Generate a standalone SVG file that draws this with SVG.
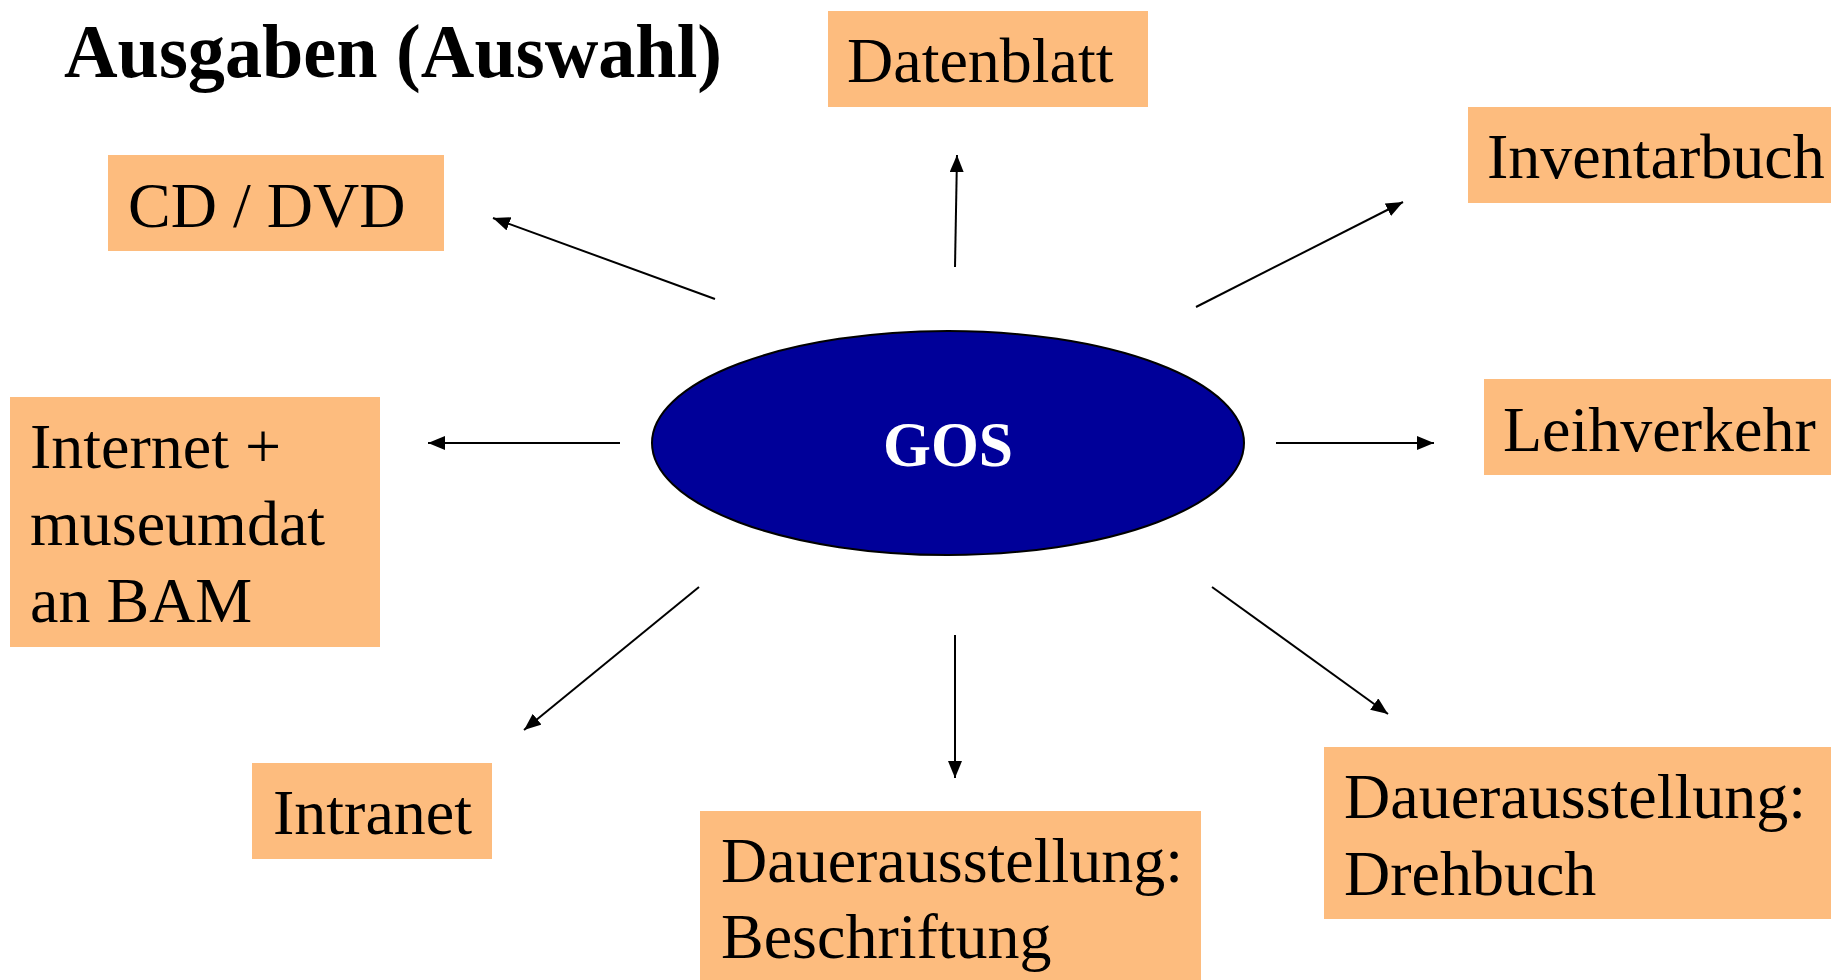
<svg xmlns="http://www.w3.org/2000/svg" width="1831" height="980" viewBox="0 0 1831 980">
<style>
.box{fill:#FDBC7E;}
.t{font-family:"Liberation Serif","Times New Roman",serif;font-size:64px;fill:#000;}
.title{font-family:"Liberation Serif","Times New Roman",serif;font-size:76px;font-weight:bold;fill:#000;}
.gos{font-family:"Liberation Serif","Times New Roman",serif;font-size:64px;font-weight:bold;fill:#fff;}
.c{stroke:#000;stroke-width:2;fill:none;marker-end:url(#ah);}
</style>
<defs>
<marker id="ah" markerUnits="userSpaceOnUse" markerWidth="18" markerHeight="14" refX="17" refY="7" orient="auto">
<path d="M0,0 L17,7 L0,14 z" fill="#000"/>
</marker>
</defs>
<rect width="1831" height="980" fill="#fff"/>
<text class="title" x="64" y="77" textLength="658" lengthAdjust="spacingAndGlyphs">Ausgaben (Auswahl)</text>
<g id="connectors">
<line class="c" x1="955" y1="267" x2="957" y2="155"/>
<line class="c" x1="1196" y1="307" x2="1403" y2="202"/>
<line class="c" x1="715" y1="299" x2="493" y2="218"/>
<line class="c" x1="620" y1="443" x2="428" y2="443"/>
<line class="c" x1="1276" y1="443" x2="1434" y2="443"/>
<line class="c" x1="699" y1="587" x2="524" y2="730"/>
<line class="c" x1="955" y1="635" x2="955" y2="778"/>
<line class="c" x1="1212" y1="587" x2="1388" y2="714"/>
</g>
<g id="gos">
<ellipse cx="948" cy="443" rx="296" ry="112" fill="#000099" stroke="#000" stroke-width="2"/>
<text class="gos" x="948" y="466" text-anchor="middle" textLength="130" lengthAdjust="spacingAndGlyphs">GOS</text>
</g>
<g id="datenblatt">
<rect class="box" x="828" y="11" width="320" height="96"/>
<text class="t" x="847" y="82">Datenblatt</text>
</g>
<g id="inventarbuch">
<rect class="box" x="1468" y="107" width="363" height="96"/>
<text class="t" x="1487" y="178">Inventarbuch</text>
</g>
<g id="cddvd">
<rect class="box" x="108" y="155" width="336" height="96"/>
<text class="t" x="128" y="227">CD / DVD</text>
</g>
<g id="internet">
<rect class="box" x="10" y="397" width="370" height="250"/>
<text class="t" x="30" y="468">Internet +</text>
<text class="t" x="30" y="545">museumdat</text>
<text class="t" x="30" y="622">an BAM</text>
</g>
<g id="leihverkehr">
<rect class="box" x="1484" y="379" width="347" height="96"/>
<text class="t" x="1503" y="451">Leihverkehr</text>
</g>
<g id="intranet">
<rect class="box" x="252" y="763" width="240" height="96"/>
<text class="t" x="273" y="834">Intranet</text>
</g>
<g id="beschriftung">
<rect class="box" x="700" y="811" width="501" height="169"/>
<text class="t" x="721" y="882">Dauerausstellung:</text>
<text class="t" x="721" y="958">Beschriftung</text>
</g>
<g id="drehbuch">
<rect class="box" x="1324" y="747" width="507" height="172"/>
<text class="t" x="1344" y="818">Dauerausstellung:</text>
<text class="t" x="1344" y="895">Drehbuch</text>
</g>
</svg>
